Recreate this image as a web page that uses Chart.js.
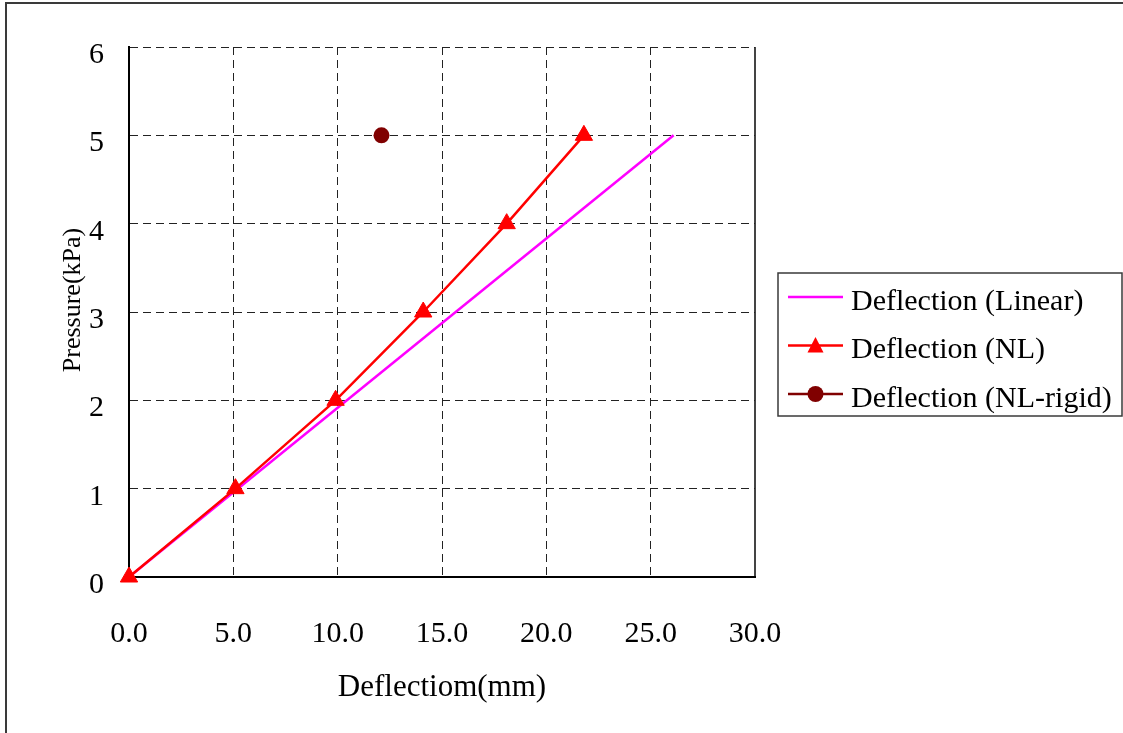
<!DOCTYPE html>
<html>
<head>
<meta charset="utf-8">
<script src="https://cdn.jsdelivr.net/npm/chart.js@4.4.1/dist/chart.umd.min.js"></script>
<style>
  html, body { margin: 0; padding: 0; background: #ffffff; }
  #wrap { width: 1123px; height: 733px; }
</style>
</head>
<body>
<div id="wrap"><canvas id="chart" width="1123" height="733"></canvas></div>
<script>
// Pressure vs. deflection of the plate, three analyses
const seriesNames = ['Deflection (Linear)', 'Deflection (NL)', 'Deflection (NL-rigid)'];

const linearDeflection = [0, 26.1];
const linearPressure   = [0, 5];

const nlDeflection = [0, 5.1, 9.9, 14.1, 18.1, 21.8];
const nlPressure   = [0, 1, 2, 3, 4, 5];

const rigidDeflection = [12.1];
const rigidPressure   = [5];

const xTicks = [0, 5, 10, 15, 20, 25, 30];
const yTicks = [0, 1, 2, 3, 4, 5, 6];

const xTitle = 'Deflectiom(mm)';
const yTitle = 'Pressure(kPa)';

const SERIF = "'Liberation Serif', 'Times New Roman', serif";

function toPoints(xs, ys) {
  return xs.map((x, i) => ({ x: x, y: ys[i] }));
}

// White page with the outer chart frame
const framePlugin = {
  id: 'frame',
  beforeDraw(chart) {
    const ctx = chart.ctx;
    ctx.save();
    ctx.fillStyle = '#ffffff';
    ctx.fillRect(0, 0, chart.width, chart.height);
    ctx.strokeStyle = '#3a3a3a';
    ctx.lineWidth = 2;
    ctx.strokeRect(6, 3, chart.width + 20, chart.height + 20);
    ctx.restore();
  }
};

// Rotated y-axis title, set a little above the middle of the plot area
const yTitlePlugin = {
  id: 'yTitle',
  afterDraw(chart) {
    const ctx = chart.ctx;
    const area = chart.chartArea;
    ctx.save();
    ctx.translate(area.left - 56, (area.top + area.bottom) / 2 - 12);
    ctx.rotate(-Math.PI / 2);
    ctx.fillStyle = '#000000';
    ctx.font = '26px ' + SERIF;
    ctx.textAlign = 'center';
    ctx.textBaseline = 'middle';
    ctx.fillText(yTitle, 0, 0);
    ctx.restore();
  }
};

// Boxed legend to the right of the plot area
const boxLegendPlugin = {
  id: 'boxLegend',
  afterDraw(chart) {
    const ctx = chart.ctx;
    const area = chart.chartArea;
    const left = area.right + 23;
    const top = 273;
    const width = chart.width - left - 1;
    const height = 143;
    const rowGap = 48.5;
    const firstRow = top + 24;

    ctx.save();
    ctx.fillStyle = '#ffffff';
    ctx.fillRect(left, top, width, height);
    ctx.strokeStyle = '#3a3a3a';
    ctx.lineWidth = 1.5;
    ctx.strokeRect(left, top, width, height);

    chart.data.datasets.forEach((ds, i) => {
      const y = firstRow + i * rowGap;
      const x0 = left + 10;
      const x1 = left + 65;
      ctx.strokeStyle = ds.borderColor;
      ctx.lineWidth = 2.5;
      ctx.beginPath();
      ctx.moveTo(x0, y);
      ctx.lineTo(x1, y);
      ctx.stroke();

      const cx = (x0 + x1) / 2;
      ctx.fillStyle = ds.pointBackgroundColor || ds.borderColor;
      if (ds.pointStyle === 'triangle' && ds.pointRadius > 0) {
        ctx.beginPath();
        ctx.moveTo(cx, y - 8.5);
        ctx.lineTo(cx + 8, y + 7);
        ctx.lineTo(cx - 8, y + 7);
        ctx.closePath();
        ctx.fill();
      } else if (ds.pointStyle === 'circle' && ds.pointRadius > 0) {
        ctx.beginPath();
        ctx.arc(cx, y, 8, 0, Math.PI * 2);
        ctx.fill();
      }

      ctx.fillStyle = '#000000';
      ctx.font = '30px ' + SERIF;
      ctx.textAlign = 'left';
      ctx.textBaseline = 'middle';
      ctx.fillText(ds.label, x1 + 8, y + 5);
    });
    ctx.restore();
  }
};

const dashed = [8, 5];

new Chart(document.getElementById('chart'), {
  type: 'scatter',
  data: {
    datasets: [
      {
        label: seriesNames[0],
        data: toPoints(linearDeflection, linearPressure),
        showLine: true,
        borderColor: '#ff00ff',
        backgroundColor: '#ff00ff',
        borderWidth: 2.5,
        pointRadius: 0,
        pointStyle: 'line',
        order: 3,
        clip: false
      },
      {
        label: seriesNames[1],
        data: toPoints(nlDeflection, nlPressure),
        showLine: true,
        borderColor: '#ff0000',
        backgroundColor: '#ff0000',
        pointBackgroundColor: '#ff0000',
        pointBorderColor: '#ff0000',
        borderWidth: 2.5,
        pointStyle: 'triangle',
        pointRadius: 10,
        pointBorderWidth: 1,
        order: 2,
        clip: false
      },
      {
        label: seriesNames[2],
        data: toPoints(rigidDeflection, rigidPressure),
        showLine: false,
        borderColor: '#800000',
        backgroundColor: '#800000',
        pointBackgroundColor: '#800000',
        pointBorderColor: '#800000',
        pointStyle: 'circle',
        pointRadius: 8,
        pointBorderWidth: 0,
        order: 1,
        clip: false
      }
    ]
  },
  options: {
    responsive: false,
    animation: false,
    events: [],
    layout: { padding: { left: 0, top: 47, right: 368, bottom: 0 } },
    plugins: {
      legend: { display: false },
      tooltip: { enabled: false },
      title: { display: false }
    },
    scales: {
      x: {
        type: 'linear',
        min: xTicks[0],
        max: xTicks[xTicks.length - 1],
        afterBuildTicks(scale) { scale.ticks = xTicks.map(v => ({ value: v })); },
        afterFit(scale) { scale.height = 156; scale.paddingLeft = 0; scale.paddingRight = 0; },
        ticks: {
          padding: 39,
          color: '#000000',
          font: { family: SERIF, size: 30 },
          maxRotation: 0,
          callback: v => Number(v).toFixed(1)
        },
        grid: {
          drawTicks: false,
          color: ctx => (ctx.tick && ctx.tick.value === xTicks[xTicks.length - 1]) ? '#444444' : '#222222',
          lineWidth: ctx => (ctx.tick && ctx.tick.value === xTicks[xTicks.length - 1]) ? 2 : 1
        },
        border: {
          display: true,
          color: '#000000',
          width: 2,
          dash: ctx => (ctx.tick && ctx.tick.value === xTicks[xTicks.length - 1]) ? [] : dashed
        },
        title: {
          display: true,
          text: xTitle,
          color: '#000000',
          font: { family: SERIF, size: 31 },
          padding: { top: 0, bottom: 27 }
        }
      },
      y: {
        type: 'linear',
        min: yTicks[0],
        max: yTicks[yTicks.length - 1],
        afterBuildTicks(scale) { scale.ticks = yTicks.map(v => ({ value: v })); },
        afterFit(scale) { scale.width = 129; scale.paddingTop = 0; scale.paddingBottom = 0; },
        ticks: {
          padding: 25,
          labelOffset: 8,
          color: '#000000',
          font: { family: SERIF, size: 30 },
          callback: v => String(v)
        },
        grid: {
          drawTicks: false,
          color: '#222222',
          lineWidth: 1
        },
        border: {
          display: true,
          color: '#000000',
          width: 2,
          dash: dashed
        },
        title: { display: false }
      }
    }
  },
  plugins: [framePlugin, yTitlePlugin, boxLegendPlugin]
});
</script>
</body>
</html>
